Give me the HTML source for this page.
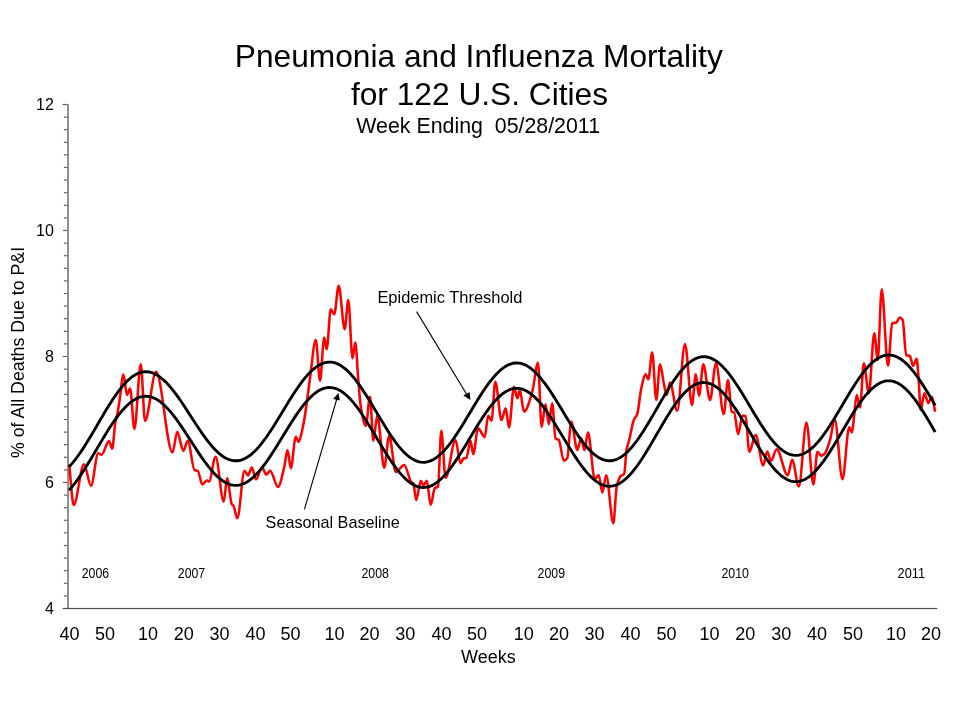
<!DOCTYPE html>
<html><head><meta charset="utf-8"><style>
html,body{margin:0;padding:0;background:#fff;width:960px;height:720px;overflow:hidden}
svg{display:block;will-change:transform}
text{font-family:"Liberation Sans",sans-serif;fill:#000}
</style></head><body>
<svg width="960" height="720" viewBox="0 0 960 720">
<rect width="960" height="720" fill="#fff"/>
<g font-size="31.7" text-anchor="middle">
<text x="478.8" y="66.8">Pneumonia and Influenza Mortality</text>
<text x="479.5" y="104.8">for 122 U.S. Cities</text>
</g>
<text x="478.2" y="132.7" font-size="21.35" text-anchor="middle" xml:space="preserve">Week Ending  05/28/2011</text>
<g stroke="#5c5c5c" stroke-width="1.15"><line x1="62.8" y1="608.50" x2="68" y2="608.50"/><line x1="63.9" y1="595.90" x2="68" y2="595.90"/><line x1="63.9" y1="583.30" x2="68" y2="583.30"/><line x1="63.9" y1="570.70" x2="68" y2="570.70"/><line x1="63.9" y1="558.10" x2="68" y2="558.10"/><line x1="63.9" y1="545.50" x2="68" y2="545.50"/><line x1="63.9" y1="532.90" x2="68" y2="532.90"/><line x1="63.9" y1="520.30" x2="68" y2="520.30"/><line x1="63.9" y1="507.70" x2="68" y2="507.70"/><line x1="63.9" y1="495.10" x2="68" y2="495.10"/><line x1="62.8" y1="482.50" x2="68" y2="482.50"/><line x1="63.9" y1="469.90" x2="68" y2="469.90"/><line x1="63.9" y1="457.30" x2="68" y2="457.30"/><line x1="63.9" y1="444.70" x2="68" y2="444.70"/><line x1="63.9" y1="432.10" x2="68" y2="432.10"/><line x1="63.9" y1="419.50" x2="68" y2="419.50"/><line x1="63.9" y1="406.90" x2="68" y2="406.90"/><line x1="63.9" y1="394.30" x2="68" y2="394.30"/><line x1="63.9" y1="381.70" x2="68" y2="381.70"/><line x1="63.9" y1="369.10" x2="68" y2="369.10"/><line x1="62.8" y1="356.50" x2="68" y2="356.50"/><line x1="63.9" y1="343.90" x2="68" y2="343.90"/><line x1="63.9" y1="331.30" x2="68" y2="331.30"/><line x1="63.9" y1="318.70" x2="68" y2="318.70"/><line x1="63.9" y1="306.10" x2="68" y2="306.10"/><line x1="63.9" y1="293.50" x2="68" y2="293.50"/><line x1="63.9" y1="280.90" x2="68" y2="280.90"/><line x1="63.9" y1="268.30" x2="68" y2="268.30"/><line x1="63.9" y1="255.70" x2="68" y2="255.70"/><line x1="63.9" y1="243.10" x2="68" y2="243.10"/><line x1="62.8" y1="230.50" x2="68" y2="230.50"/><line x1="63.9" y1="217.90" x2="68" y2="217.90"/><line x1="63.9" y1="205.30" x2="68" y2="205.30"/><line x1="63.9" y1="192.70" x2="68" y2="192.70"/><line x1="63.9" y1="180.10" x2="68" y2="180.10"/><line x1="63.9" y1="167.50" x2="68" y2="167.50"/><line x1="63.9" y1="154.90" x2="68" y2="154.90"/><line x1="63.9" y1="142.30" x2="68" y2="142.30"/><line x1="63.9" y1="129.70" x2="68" y2="129.70"/><line x1="63.9" y1="117.10" x2="68" y2="117.10"/><line x1="62.8" y1="104.50" x2="68" y2="104.50"/></g>
<rect x="67.1" y="104.2" width="1.9" height="504.8" fill="#8c8c8c"/>
<rect x="62.8" y="607.9" width="874.4" height="1.2" fill="#505058"/>
<g font-size="16"><text x="53.8" y="614.10" text-anchor="end">4</text><text x="53.8" y="488.10" text-anchor="end">6</text><text x="53.8" y="362.10" text-anchor="end">8</text><text x="53.8" y="236.10" text-anchor="end">10</text><text x="53.8" y="110.10" text-anchor="end">12</text></g>
<g font-size="18" text-anchor="middle"><text x="69.60" y="640">40</text><text x="105.00" y="640">50</text><text x="148.10" y="640">10</text><text x="183.75" y="640">20</text><text x="219.60" y="640">30</text><text x="255.40" y="640">40</text><text x="290.60" y="640">50</text><text x="334.40" y="640">10</text><text x="369.60" y="640">20</text><text x="405.25" y="640">30</text><text x="441.50" y="640">40</text><text x="477.10" y="640">50</text><text x="523.75" y="640">10</text><text x="559.10" y="640">20</text><text x="594.60" y="640">30</text><text x="630.60" y="640">40</text><text x="666.50" y="640">50</text><text x="709.50" y="640">10</text><text x="745.20" y="640">20</text><text x="781.30" y="640">30</text><text x="817.10" y="640">40</text><text x="852.90" y="640">50</text><text x="896.00" y="640">10</text><text x="931.00" y="640">20</text></g>
<text x="488.4" y="663" font-size="18" text-anchor="middle">Weeks</text>
<text transform="translate(24,352.5) rotate(-90)" font-size="17.75" text-anchor="middle">% of All Deaths Due to P&amp;I</text>
<g font-size="14.2"><text x="81.7" y="577.8" textLength="27.4" lengthAdjust="spacingAndGlyphs">2006</text><text x="177.8" y="577.8" textLength="27.4" lengthAdjust="spacingAndGlyphs">2007</text><text x="361.5" y="577.8" textLength="27.4" lengthAdjust="spacingAndGlyphs">2008</text><text x="537.6" y="577.8" textLength="27.4" lengthAdjust="spacingAndGlyphs">2009</text><text x="721.5" y="577.8" textLength="27.4" lengthAdjust="spacingAndGlyphs">2010</text><text x="897.6" y="577.8" textLength="27.4" lengthAdjust="spacingAndGlyphs">2011</text></g>
<text x="377.4" y="302.9" font-size="16.45">Epidemic Threshold</text>
<text x="265.6" y="527.9" font-size="16.2">Seasonal Baseline</text>
<g stroke="#000" stroke-width="1.1" fill="none">
<line x1="416.6" y1="311.6" x2="466.5" y2="394"/>
<line x1="304.4" y1="509.3" x2="336.8" y2="399"/>
</g>
<g fill="#000">
<polygon points="470.4,400 463.3,395.4 469.6,391.9"/>
<polygon points="338.5,393.1 333.1,399 339.8,400.6"/>
</g>
<path d="M69.30 465.80C70.77 478.87 72.23 505.00 73.70 505.00C77.13 505.00 80.57 464.20 84.00 464.20C86.33 464.20 88.67 485.80 91.00 485.80C93.40 485.80 95.80 453.30 98.20 453.30C99.30 453.30 100.40 454.70 101.50 454.70C104.00 454.70 106.50 441.00 109.00 441.00C110.07 441.00 111.13 448.60 112.20 448.60C113.23 448.60 114.27 428.25 115.30 422.50C116.00 418.61 116.70 416.98 117.40 413.50C118.07 410.19 118.73 405.84 119.40 401.70C120.77 393.21 122.13 374.40 123.50 374.40C124.67 374.40 125.83 395.00 127.00 395.00C128.03 395.00 129.07 388.40 130.10 388.40C131.53 388.40 132.97 429.00 134.40 429.00C136.53 429.00 138.67 364.00 140.80 364.00C142.20 364.00 143.60 420.80 145.00 420.80C148.70 420.80 152.40 371.80 156.10 371.80C161.57 371.80 167.03 452.50 172.50 452.50C174.10 452.50 175.70 431.70 177.30 431.70C179.30 431.70 181.30 450.80 183.30 450.80C184.80 450.80 186.30 440.80 187.80 440.80C190.03 440.80 192.27 469.07 194.50 470.00C195.60 470.46 196.70 470.32 197.80 470.80C199.27 471.43 200.73 484.40 202.20 484.40C203.80 484.40 205.40 480.50 207.00 480.50C207.67 480.50 208.33 481.50 209.00 481.50C211.20 481.50 213.40 456.70 215.60 456.70C218.30 456.70 221.00 501.70 223.70 501.70C224.83 501.70 225.97 478.30 227.10 478.30C228.67 478.30 230.23 501.93 231.80 504.20C232.37 505.02 232.93 505.03 233.50 505.80C234.77 507.53 236.03 518.30 237.30 518.30C239.70 518.30 242.10 470.80 244.50 470.80C245.67 470.80 246.83 475.40 248.00 475.40C249.27 475.40 250.53 467.50 251.80 467.50C253.20 467.50 254.60 479.40 256.00 479.40C258.00 479.40 260.00 467.30 262.00 467.30C263.43 467.30 264.87 474.60 266.30 474.60C267.57 474.60 268.83 470.80 270.10 470.80C272.73 470.80 275.37 487.00 278.00 487.00C280.10 487.00 282.20 475.29 284.30 466.70C285.37 462.34 286.43 450.00 287.50 450.00C288.60 450.00 289.70 468.30 290.80 468.30C292.47 468.30 294.13 436.70 295.80 436.70C296.63 436.70 297.47 441.70 298.30 441.70C299.97 441.70 301.63 432.46 303.30 425.00C304.43 419.93 305.57 411.16 306.70 403.30C307.80 395.68 308.90 386.11 310.00 378.30C311.93 364.57 313.87 340.00 315.80 340.00C317.20 340.00 318.60 380.80 320.00 380.80C321.40 380.80 322.80 337.50 324.20 337.50C325.03 337.50 325.87 349.20 326.70 349.20C328.07 349.20 329.43 309.20 330.80 309.20C331.93 309.20 333.07 314.20 334.20 314.20C335.70 314.20 337.20 285.80 338.70 285.80C340.70 285.80 342.70 329.20 344.70 329.20C345.90 329.20 347.10 300.00 348.30 300.00C349.70 300.00 351.10 358.30 352.50 358.30C353.43 358.30 354.37 342.50 355.30 342.50C356.30 342.50 357.30 368.51 358.30 380.00C359.13 389.58 359.97 401.75 360.80 406.70C362.47 416.60 364.13 425.80 365.80 425.80C367.20 425.80 368.60 396.70 370.00 396.70C371.10 396.70 372.20 440.80 373.30 440.80C374.63 440.80 375.97 415.80 377.30 415.80C379.60 415.80 381.90 467.80 384.20 467.80C385.87 467.80 387.53 435.80 389.20 435.80C391.40 435.80 393.60 472.00 395.80 472.00C398.60 472.00 401.40 465.00 404.20 465.00C406.63 465.00 409.07 480.35 411.50 482.30C412.10 482.78 412.70 482.73 413.30 483.30C414.27 484.22 415.23 500.00 416.20 500.00C417.73 500.00 419.27 480.80 420.80 480.80C421.63 480.80 422.47 485.50 423.30 485.50C424.47 485.50 425.63 480.80 426.80 480.80C428.10 480.80 429.40 505.00 430.70 505.00C432.03 505.00 433.37 489.56 434.70 488.30C435.80 487.26 436.90 487.66 438.00 486.50C439.10 485.34 440.20 430.80 441.30 430.80C442.73 430.80 444.17 477.80 445.60 477.80C448.90 477.80 452.20 440.00 455.50 440.00C457.17 440.00 458.83 463.30 460.50 463.30C461.60 463.30 462.70 458.30 463.80 458.30C464.63 458.30 465.47 458.30 466.30 458.30C467.70 458.30 469.10 440.80 470.50 440.80C471.43 440.80 472.37 454.20 473.30 454.20C474.87 454.20 476.43 428.30 478.00 428.30C480.23 428.30 482.47 437.00 484.70 437.00C485.87 437.00 487.03 415.80 488.20 415.80C489.30 415.80 490.40 420.80 491.50 420.80C492.77 420.80 494.03 381.70 495.30 381.70C497.37 381.70 499.43 420.00 501.50 420.00C502.90 420.00 504.30 408.30 505.70 408.30C506.80 408.30 507.90 427.50 509.00 427.50C510.67 427.50 512.33 386.70 514.00 386.70C515.10 386.70 516.20 398.30 517.30 398.30C518.13 398.30 518.97 390.00 519.80 390.00C521.20 390.00 522.60 411.70 524.00 411.70C526.77 411.70 529.53 400.94 532.30 391.70C534.20 385.35 536.10 362.80 538.00 362.80C539.20 362.80 540.40 427.00 541.60 427.00C542.90 427.00 544.20 404.20 545.50 404.20C546.60 404.20 547.70 424.20 548.80 424.20C549.93 424.20 551.07 403.30 552.20 403.30C553.30 403.30 554.40 437.22 555.50 438.30C556.60 439.38 557.70 439.04 558.80 440.00C560.47 441.45 562.13 460.80 563.80 460.80C564.93 460.80 566.07 459.80 567.20 458.30C568.57 456.49 569.93 421.70 571.30 421.70C573.30 421.70 575.30 450.00 577.30 450.00C578.63 450.00 579.97 438.30 581.30 438.30C582.33 438.30 583.37 450.20 584.40 450.20C585.60 450.20 586.80 432.50 588.00 432.50C590.27 432.50 592.53 479.20 594.80 479.20C596.07 479.20 597.33 475.00 598.60 475.00C599.87 475.00 601.13 492.50 602.40 492.50C603.67 492.50 604.93 475.20 606.20 475.20C608.57 475.20 610.93 523.30 613.30 523.30C614.43 523.30 615.57 491.55 616.70 486.70C618.07 480.85 619.43 477.39 620.80 476.00C621.93 474.85 623.07 475.26 624.20 473.80C624.97 472.81 625.73 454.24 626.50 450.00C627.40 445.03 628.30 443.58 629.20 440.00C630.73 433.91 632.27 423.68 633.80 420.00C634.93 417.28 636.07 417.19 637.20 414.20C638.57 410.59 639.93 394.30 641.30 388.30C642.70 382.15 644.10 374.20 645.50 374.20C646.43 374.20 647.37 379.20 648.30 379.20C649.60 379.20 650.90 352.50 652.20 352.50C653.57 352.50 654.93 400.00 656.30 400.00C657.53 400.00 658.77 364.20 660.00 364.20C661.27 364.20 662.53 377.66 663.80 383.30C664.77 387.61 665.73 395.00 666.70 395.00C667.80 395.00 668.90 382.50 670.00 382.50C672.40 382.50 674.80 410.80 677.20 410.80C679.80 410.80 682.40 344.00 685.00 344.00C687.33 344.00 689.67 405.00 692.00 405.00C693.27 405.00 694.53 374.20 695.80 374.20C696.87 374.20 697.93 395.80 699.00 395.80C700.43 395.80 701.87 364.20 703.30 364.20C705.53 364.20 707.77 400.00 710.00 400.00C712.00 400.00 714.00 363.30 716.00 363.30C718.57 363.30 721.13 414.20 723.70 414.20C725.13 414.20 726.57 380.00 728.00 380.00C729.23 380.00 730.47 410.98 731.70 411.70C732.53 412.19 733.37 412.03 734.20 412.50C735.50 413.24 736.80 434.20 738.10 434.20C739.60 434.20 741.10 415.40 742.60 415.40C743.60 415.40 744.60 415.70 745.60 416.20C746.83 416.82 748.07 451.70 749.30 451.70C751.43 451.70 753.57 435.00 755.70 435.00C758.20 435.00 760.70 465.40 763.20 465.40C764.53 465.40 765.87 451.50 767.20 451.50C768.47 451.50 769.73 461.00 771.00 461.00C772.87 461.00 774.73 449.20 776.60 449.20C780.33 449.20 784.07 475.40 787.80 475.40C789.27 475.40 790.73 459.80 792.20 459.80C794.40 459.80 796.60 486.50 798.80 486.50C801.37 486.50 803.93 422.50 806.50 422.50C808.77 422.50 811.03 484.40 813.30 484.40C814.70 484.40 816.10 451.90 817.50 451.90C818.73 451.90 819.97 455.80 821.20 455.80C822.27 455.80 823.33 454.93 824.40 454.00C826.27 452.38 828.13 446.01 830.00 440.00C831.57 434.95 833.13 419.20 834.70 419.20C837.30 419.20 839.90 479.20 842.50 479.20C844.73 479.20 846.97 427.30 849.20 427.30C850.13 427.30 851.07 432.50 852.00 432.50C852.73 432.50 853.47 420.85 854.20 415.00C855.03 408.35 855.87 395.00 856.70 395.00C857.80 395.00 858.90 407.50 860.00 407.50C861.27 407.50 862.53 363.30 863.80 363.30C865.47 363.30 867.13 393.30 868.80 393.30C870.63 393.30 872.47 333.30 874.30 333.30C875.43 333.30 876.57 360.00 877.70 360.00C879.03 360.00 880.37 289.20 881.70 289.20C883.80 289.20 885.90 365.80 888.00 365.80C889.40 365.80 890.80 323.83 892.20 323.30C893.57 322.78 894.93 322.98 896.30 322.50C897.43 322.10 898.57 317.50 899.70 317.50C900.70 317.50 901.70 318.49 902.70 320.00C903.87 321.76 905.03 355.37 906.20 355.50C907.40 355.63 908.60 355.57 909.80 355.70C910.87 355.82 911.93 366.00 913.00 366.00C914.20 366.00 915.40 358.80 916.60 358.80C917.27 358.80 917.93 370.68 918.60 378.60C919.30 386.91 920.00 409.90 920.70 409.90C921.93 409.90 923.17 393.20 924.40 393.20C925.70 393.20 927.00 402.90 928.30 402.90C929.47 402.90 930.63 396.70 931.80 396.70C932.87 396.70 933.93 405.97 935.00 410.60" fill="none" stroke="#ff0000" stroke-width="2.55" stroke-linejoin="round" stroke-linecap="round"/>
<path d="M69.00 466.80 L71.00 464.66 L73.00 462.35 L75.00 459.88 L77.00 457.26 L79.00 454.50 L81.00 451.61 L83.00 448.61 L85.00 445.51 L87.00 442.31 L89.00 439.04 L91.00 435.71 L93.00 432.33 L95.00 428.91 L97.00 425.48 L99.00 422.04 L101.00 418.62 L103.00 415.21 L105.00 411.85 L107.00 408.54 L109.00 405.30 L111.00 402.14 L113.00 399.07 L115.00 396.12 L117.00 393.28 L119.00 390.57 L121.00 388.01 L123.00 385.60 L125.00 383.36 L127.00 381.29 L129.00 379.41 L131.00 377.72 L133.00 376.22 L135.00 374.93 L137.00 373.85 L139.00 372.99 L141.00 372.34 L143.00 371.92 L145.00 371.72 L147.00 371.74 L149.00 371.98 L151.00 372.43 L153.00 373.10 L155.00 373.98 L157.00 375.06 L159.00 376.35 L161.00 377.83 L163.00 379.49 L165.00 381.34 L167.00 383.35 L169.00 385.53 L171.00 387.85 L173.00 390.32 L175.00 392.91 L177.00 395.61 L179.00 398.41 L181.00 401.31 L183.00 404.27 L185.00 407.29 L187.00 410.36 L189.00 413.45 L191.00 416.56 L193.00 419.67 L195.00 422.76 L197.00 425.82 L199.00 428.83 L201.00 431.78 L203.00 434.65 L205.00 437.44 L207.00 440.12 L209.00 442.69 L211.00 445.12 L213.00 447.42 L215.00 449.56 L217.00 451.55 L219.00 453.36 L221.00 454.99 L223.00 456.43 L225.00 457.67 L227.00 458.71 L229.00 459.55 L231.00 460.18 L233.00 460.59 L235.00 460.78 L237.00 460.76 L239.00 460.52 L241.00 460.05 L243.00 459.37 L245.00 458.48 L247.00 457.37 L249.00 456.06 L251.00 454.54 L253.00 452.84 L255.00 450.94 L257.00 448.87 L259.00 446.64 L261.00 444.24 L263.00 441.70 L265.00 439.02 L267.00 436.22 L269.00 433.31 L271.00 430.30 L273.00 427.20 L275.00 424.04 L277.00 420.81 L279.00 417.55 L281.00 414.26 L283.00 410.95 L285.00 407.65 L287.00 404.37 L289.00 401.11 L291.00 397.91 L293.00 394.76 L295.00 391.69 L297.00 388.71 L299.00 385.83 L301.00 383.06 L303.00 380.42 L305.00 377.92 L307.00 375.58 L309.00 373.39 L311.00 371.37 L313.00 369.53 L315.00 367.88 L317.00 366.43 L319.00 365.18 L321.00 364.13 L323.00 363.30 L325.00 362.68 L327.00 362.29 L329.00 362.11 L331.00 362.16 L333.00 362.43 L335.00 362.92 L337.00 363.63 L339.00 364.57 L341.00 365.72 L343.00 367.07 L345.00 368.63 L347.00 370.39 L349.00 372.33 L351.00 374.45 L353.00 376.74 L355.00 379.20 L357.00 381.80 L359.00 384.53 L361.00 387.39 L363.00 390.37 L365.00 393.44 L367.00 396.59 L369.00 399.82 L371.00 403.10 L373.00 406.42 L375.00 409.77 L377.00 413.12 L379.00 416.48 L381.00 419.81 L383.00 423.11 L385.00 426.37 L387.00 429.55 L389.00 432.66 L391.00 435.68 L393.00 438.60 L395.00 441.39 L397.00 444.05 L399.00 446.57 L401.00 448.94 L403.00 451.14 L405.00 453.16 L407.00 455.00 L409.00 456.65 L411.00 458.10 L413.00 459.34 L415.00 460.37 L417.00 461.19 L419.00 461.78 L421.00 462.15 L423.00 462.30 L425.00 462.22 L427.00 461.92 L429.00 461.39 L431.00 460.64 L433.00 459.68 L435.00 458.50 L437.00 457.12 L439.00 455.53 L441.00 453.75 L443.00 451.78 L445.00 449.64 L447.00 447.33 L449.00 444.86 L451.00 442.24 L453.00 439.50 L455.00 436.63 L457.00 433.65 L459.00 430.57 L461.00 427.42 L463.00 424.19 L465.00 420.92 L467.00 417.61 L469.00 414.27 L471.00 410.93 L473.00 407.59 L475.00 404.28 L477.00 401.01 L479.00 397.78 L481.00 394.63 L483.00 391.55 L485.00 388.57 L487.00 385.70 L489.00 382.96 L491.00 380.34 L493.00 377.87 L495.00 375.56 L497.00 373.42 L499.00 371.45 L501.00 369.67 L503.00 368.08 L505.00 366.70 L507.00 365.52 L509.00 364.56 L511.00 363.81 L513.00 363.28 L515.00 362.98 L517.00 362.90 L519.00 363.05 L521.00 363.42 L523.00 364.01 L525.00 364.82 L527.00 365.84 L529.00 367.07 L531.00 368.51 L533.00 370.15 L535.00 371.98 L537.00 373.99 L539.00 376.17 L541.00 378.52 L543.00 381.02 L545.00 383.66 L547.00 386.43 L549.00 389.31 L551.00 392.30 L553.00 395.38 L555.00 398.53 L557.00 401.74 L559.00 405.00 L561.00 408.29 L563.00 411.60 L565.00 414.91 L567.00 418.21 L569.00 421.47 L571.00 424.69 L573.00 427.86 L575.00 430.94 L577.00 433.95 L579.00 436.85 L581.00 439.64 L583.00 442.30 L585.00 444.82 L587.00 447.19 L589.00 449.40 L591.00 451.43 L593.00 453.29 L595.00 454.95 L597.00 456.42 L599.00 457.69 L601.00 458.74 L603.00 459.59 L605.00 460.21 L607.00 460.61 L609.00 460.79 L611.00 460.74 L613.00 460.47 L615.00 459.96 L617.00 459.22 L619.00 458.26 L621.00 457.08 L623.00 455.68 L625.00 454.08 L627.00 452.27 L629.00 450.27 L631.00 448.08 L633.00 445.72 L635.00 443.20 L637.00 440.52 L639.00 437.70 L641.00 434.75 L643.00 431.69 L645.00 428.52 L647.00 425.26 L649.00 421.93 L651.00 418.55 L653.00 415.12 L655.00 411.66 L657.00 408.19 L659.00 404.72 L661.00 401.26 L663.00 397.85 L665.00 394.48 L667.00 391.17 L669.00 387.94 L671.00 384.81 L673.00 381.78 L675.00 378.87 L677.00 376.09 L679.00 373.46 L681.00 370.99 L683.00 368.69 L685.00 366.56 L687.00 364.62 L689.00 362.88 L691.00 361.34 L693.00 360.01 L695.00 358.90 L697.00 358.01 L699.00 357.35 L701.00 356.92 L703.00 356.72 L705.00 356.74 L707.00 357.00 L709.00 357.49 L711.00 358.20 L713.00 359.14 L715.00 360.29 L717.00 361.66 L719.00 363.23 L721.00 365.01 L723.00 366.97 L725.00 369.12 L727.00 371.44 L729.00 373.92 L731.00 376.55 L733.00 379.31 L735.00 382.21 L737.00 385.21 L739.00 388.31 L741.00 391.49 L743.00 394.74 L745.00 398.04 L747.00 401.38 L749.00 404.74 L751.00 408.11 L753.00 411.47 L755.00 414.80 L757.00 418.10 L759.00 421.33 L761.00 424.50 L763.00 427.58 L765.00 430.55 L767.00 433.42 L769.00 436.16 L771.00 438.75 L773.00 441.20 L775.00 443.48 L777.00 445.59 L779.00 447.51 L781.00 449.24 L783.00 450.77 L785.00 452.09 L787.00 453.19 L789.00 454.08 L791.00 454.74 L793.00 455.17 L795.00 455.38 L797.00 455.36 L799.00 455.11 L801.00 454.63 L803.00 453.92 L805.00 452.99 L807.00 451.85 L809.00 450.49 L811.00 448.92 L813.00 447.15 L815.00 445.20 L817.00 443.06 L819.00 440.74 L821.00 438.27 L823.00 435.64 L825.00 432.87 L827.00 429.98 L829.00 426.98 L831.00 423.87 L833.00 420.68 L835.00 417.42 L837.00 414.10 L839.00 410.75 L841.00 407.36 L843.00 403.97 L845.00 400.58 L847.00 397.22 L849.00 393.89 L851.00 390.61 L853.00 387.40 L855.00 384.27 L857.00 381.23 L859.00 378.31 L861.00 375.51 L863.00 372.84 L865.00 370.32 L867.00 367.96 L869.00 365.78 L871.00 363.77 L873.00 361.95 L875.00 360.32 L877.00 358.91 L879.00 357.70 L881.00 356.71 L883.00 355.95 L885.00 355.40 L887.00 355.09 L889.00 355.00 L891.00 355.15 L893.00 355.52 L895.00 356.12 L897.00 356.95 L899.00 357.99 L901.00 359.26 L903.00 360.73 L905.00 362.41 L907.00 364.28 L909.00 366.34 L911.00 368.58 L913.00 370.99 L915.00 373.56 L917.00 376.27 L919.00 379.11 L921.00 382.08 L923.00 385.15 L925.00 388.32 L927.00 391.56 L929.00 394.86 L931.00 398.22 L933.00 401.61 L935.00 405.01 L935.20 405.35" fill="none" stroke="#000" stroke-width="2.85" stroke-linejoin="round"/>
<path d="M69.00 490.28 L71.00 488.03 L73.00 485.63 L75.00 483.08 L77.00 480.40 L79.00 477.58 L81.00 474.66 L83.00 471.63 L85.00 468.51 L87.00 465.31 L89.00 462.04 L91.00 458.73 L93.00 455.38 L95.00 452.00 L97.00 448.61 L99.00 445.23 L101.00 441.86 L103.00 438.52 L105.00 435.23 L107.00 431.99 L109.00 428.83 L111.00 425.75 L113.00 422.76 L115.00 419.89 L117.00 417.13 L119.00 414.50 L121.00 412.02 L123.00 409.69 L125.00 407.52 L127.00 405.52 L129.00 403.70 L131.00 402.06 L133.00 400.62 L135.00 399.37 L137.00 398.33 L139.00 397.49 L141.00 396.87 L143.00 396.46 L145.00 396.27 L147.00 396.29 L149.00 396.53 L151.00 396.98 L153.00 397.65 L155.00 398.53 L157.00 399.61 L159.00 400.90 L161.00 402.38 L163.00 404.05 L165.00 405.89 L167.00 407.91 L169.00 410.09 L171.00 412.41 L173.00 414.88 L175.00 417.47 L177.00 420.17 L179.00 422.98 L181.00 425.87 L183.00 428.84 L185.00 431.86 L187.00 434.93 L189.00 438.03 L191.00 441.14 L193.00 444.24 L195.00 447.34 L197.00 450.40 L199.00 453.41 L201.00 456.36 L203.00 459.24 L205.00 462.03 L207.00 464.71 L209.00 467.28 L211.00 469.71 L213.00 472.01 L215.00 474.16 L217.00 476.14 L219.00 477.95 L221.00 479.58 L223.00 481.02 L225.00 482.27 L227.00 483.31 L229.00 484.15 L231.00 484.78 L233.00 485.19 L235.00 485.38 L237.00 485.36 L239.00 485.12 L241.00 484.66 L243.00 483.98 L245.00 483.09 L247.00 482.00 L249.00 480.69 L251.00 479.19 L253.00 477.50 L255.00 475.62 L257.00 473.57 L259.00 471.35 L261.00 468.98 L263.00 466.45 L265.00 463.80 L267.00 461.02 L269.00 458.13 L271.00 455.14 L273.00 452.07 L275.00 448.93 L277.00 445.74 L279.00 442.50 L281.00 439.24 L283.00 435.96 L285.00 432.68 L287.00 429.42 L289.00 426.20 L291.00 423.02 L293.00 419.90 L295.00 416.85 L297.00 413.89 L299.00 411.03 L301.00 408.29 L303.00 405.67 L305.00 403.20 L307.00 400.87 L309.00 398.70 L311.00 396.70 L313.00 394.87 L315.00 393.24 L317.00 391.79 L319.00 390.55 L321.00 389.52 L323.00 388.69 L325.00 388.08 L327.00 387.69 L329.00 387.51 L331.00 387.56 L333.00 387.82 L335.00 388.32 L337.00 389.03 L339.00 389.96 L341.00 391.11 L343.00 392.46 L345.00 394.02 L347.00 395.77 L349.00 397.71 L351.00 399.83 L353.00 402.12 L355.00 404.56 L357.00 407.16 L359.00 409.89 L361.00 412.74 L363.00 415.71 L365.00 418.77 L367.00 421.92 L369.00 425.14 L371.00 428.41 L373.00 431.73 L375.00 435.07 L377.00 438.42 L379.00 441.77 L381.00 445.10 L383.00 448.39 L385.00 451.64 L387.00 454.82 L389.00 457.92 L391.00 460.94 L393.00 463.84 L395.00 466.63 L397.00 469.29 L399.00 471.80 L401.00 474.16 L403.00 476.36 L405.00 478.38 L407.00 480.22 L409.00 481.86 L411.00 483.31 L413.00 484.55 L415.00 485.58 L417.00 486.39 L419.00 486.98 L421.00 487.35 L423.00 487.50 L425.00 487.42 L427.00 487.12 L429.00 486.59 L431.00 485.85 L433.00 484.88 L435.00 483.71 L437.00 482.33 L439.00 480.74 L441.00 478.97 L443.00 477.00 L445.00 474.86 L447.00 472.56 L449.00 470.09 L451.00 467.48 L453.00 464.74 L455.00 461.88 L457.00 458.90 L459.00 455.84 L461.00 452.69 L463.00 449.47 L465.00 446.20 L467.00 442.90 L469.00 439.57 L471.00 436.23 L473.00 432.90 L475.00 429.60 L477.00 426.33 L479.00 423.11 L481.00 419.96 L483.00 416.90 L485.00 413.92 L487.00 411.06 L489.00 408.32 L491.00 405.71 L493.00 403.24 L495.00 400.94 L497.00 398.80 L499.00 396.83 L501.00 395.06 L503.00 393.47 L505.00 392.09 L507.00 390.92 L509.00 389.95 L511.00 389.21 L513.00 388.68 L515.00 388.38 L517.00 388.30 L519.00 388.45 L521.00 388.82 L523.00 389.41 L525.00 390.22 L527.00 391.24 L529.00 392.48 L531.00 393.92 L533.00 395.55 L535.00 397.38 L537.00 399.39 L539.00 401.58 L541.00 403.93 L543.00 406.43 L545.00 409.07 L547.00 411.84 L549.00 414.72 L551.00 417.71 L553.00 420.79 L555.00 423.95 L557.00 427.16 L559.00 430.42 L561.00 433.72 L563.00 437.03 L565.00 440.34 L567.00 443.63 L569.00 446.90 L571.00 450.12 L573.00 453.29 L575.00 456.38 L577.00 459.38 L579.00 462.29 L581.00 465.07 L583.00 467.74 L585.00 470.26 L587.00 472.63 L589.00 474.84 L591.00 476.88 L593.00 478.73 L595.00 480.40 L597.00 481.87 L599.00 483.14 L601.00 484.19 L603.00 485.04 L605.00 485.66 L607.00 486.06 L609.00 486.24 L611.00 486.19 L613.00 485.92 L615.00 485.41 L617.00 484.68 L619.00 483.72 L621.00 482.54 L623.00 481.15 L625.00 479.55 L627.00 477.75 L629.00 475.76 L631.00 473.58 L633.00 471.22 L635.00 468.71 L637.00 466.04 L639.00 463.23 L641.00 460.29 L643.00 457.23 L645.00 454.08 L647.00 450.83 L649.00 447.52 L651.00 444.14 L653.00 440.72 L655.00 437.27 L657.00 433.81 L659.00 430.35 L661.00 426.91 L663.00 423.51 L665.00 420.15 L667.00 416.85 L669.00 413.64 L671.00 410.51 L673.00 407.49 L675.00 404.60 L677.00 401.83 L679.00 399.21 L681.00 396.74 L683.00 394.45 L685.00 392.33 L687.00 390.39 L689.00 388.66 L691.00 387.12 L693.00 385.80 L695.00 384.70 L697.00 383.81 L699.00 383.15 L701.00 382.72 L703.00 382.52 L705.00 382.55 L707.00 382.80 L709.00 383.29 L711.00 384.01 L713.00 384.95 L715.00 386.11 L717.00 387.49 L719.00 389.07 L721.00 390.85 L723.00 392.82 L725.00 394.98 L727.00 397.31 L729.00 399.81 L731.00 402.45 L733.00 405.23 L735.00 408.14 L737.00 411.15 L739.00 414.27 L741.00 417.47 L743.00 420.73 L745.00 424.05 L747.00 427.41 L749.00 430.79 L751.00 434.17 L753.00 437.55 L755.00 440.90 L757.00 444.21 L759.00 447.46 L761.00 450.64 L763.00 453.73 L765.00 456.73 L767.00 459.61 L769.00 462.36 L771.00 464.97 L773.00 467.43 L775.00 469.72 L777.00 471.84 L779.00 473.77 L781.00 475.51 L783.00 477.04 L785.00 478.37 L787.00 479.48 L789.00 480.37 L791.00 481.04 L793.00 481.47 L795.00 481.68 L797.00 481.66 L799.00 481.41 L801.00 480.92 L803.00 480.21 L805.00 479.28 L807.00 478.13 L809.00 476.76 L811.00 475.19 L813.00 473.41 L815.00 471.44 L817.00 469.29 L819.00 466.97 L821.00 464.48 L823.00 461.84 L825.00 459.06 L827.00 456.15 L829.00 453.13 L831.00 450.01 L833.00 446.81 L835.00 443.53 L837.00 440.20 L839.00 436.82 L841.00 433.42 L843.00 430.01 L845.00 426.61 L847.00 423.23 L849.00 419.88 L851.00 416.59 L853.00 413.36 L855.00 410.21 L857.00 407.17 L859.00 404.23 L861.00 401.41 L863.00 398.73 L865.00 396.20 L867.00 393.83 L869.00 391.63 L871.00 389.61 L873.00 387.78 L875.00 386.15 L877.00 384.73 L879.00 383.51 L881.00 382.52 L883.00 381.75 L885.00 381.20 L887.00 380.89 L889.00 380.80 L891.00 380.95 L893.00 381.33 L895.00 381.94 L897.00 382.78 L899.00 383.84 L901.00 385.13 L903.00 386.63 L905.00 388.34 L907.00 390.24 L909.00 392.34 L911.00 394.62 L913.00 397.07 L915.00 399.68 L917.00 402.44 L919.00 405.33 L921.00 408.35 L923.00 411.47 L925.00 414.69 L927.00 417.99 L929.00 421.36 L931.00 424.77 L933.00 428.21 L935.00 431.68 L935.20 432.03" fill="none" stroke="#000" stroke-width="2.85" stroke-linejoin="round"/>
</svg>
</body></html>
